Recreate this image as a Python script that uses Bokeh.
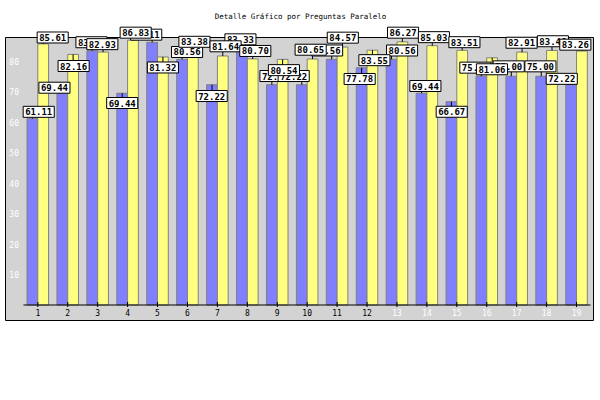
import numpy as np
from bokeh.plotting import figure
from bokeh.models import ColumnDataSource, LabelSet
from bokeh.embed import file_html
from bokeh.resources import INLINE
from bokeh.core.properties import value

# ---------------- data ----------------
categorias = [str(i) for i in range(1, 20)]
serie_azul = [61.11, 69.44, 83.33, 69.44, 86.11, 80.56, 72.22, 83.33, 72.22, 72.22,
              80.56, 77.78, 80.56, 69.44, 66.67, 75.00, 75.00, 75.00, 72.22]
serie_amarilla = [85.61, 82.16, 82.93, 86.83, 81.32, 83.38, 81.64, 80.70, 80.54, 80.65,
                  84.57, 83.55, 86.27, 85.03, 83.51, 81.06, 82.91, 83.46, 83.26]
y_ticks = [10, 20, 30, 40, 50, 60, 70, 80]
titulo = "Detalle Gráfico por Preguntas Paralelo"

# label placement (pixel offsets from the bar top centre: dx right, dy down)
off_azul = [(6.3, -6.8), (-7.9, -5.5), (-0.8, -8.6), (0, 9.8), (-5.9, -7.7), (5, -7.3),
            (-0.3, 11.3), (-1.5, -11.5), (3.6, -8.7), (-8.1, -8.7), (-4.6, -8.8), (-2, 11.2),
            (10.5, -8.8), (3.9, -7.2), (0.3, 10.1), (-6, -8.6), (-2.6, -9.9), (-0.8, -9.9),
            (-9.4, -5.9)]
off_amarilla = [(9.5, -6.4), (0.5, 11.6), (-0.7, -7.9), (2.7, -7.5), (0, 10.5), (1.6, -8.9),
                (2.8, -9.7), (2.6, -7.9), (1.3, 10.8), (-1.9, -9.3), (0.3, -9.4), (2, 10),
                (0.7, -9.2), (1.6, -8.5), (2.2, -8.1), (-0.2, 11.5), (-0.5, -9.4), (0.9, -9.2),
                (-6.6, -6.4)]

# ---------------- layout (page pixels) ----------------
PX_PER_CAT = 29.93
PX_PER_UNIT = 3.05
ZERO_PY = 304.5          # pixel row of value 0
CAT1_PX = 37.3           # pixel column of category 1
W, H_FIG = 600, 340
BOX_L, BOX_R, BOX_T, BOX_B = 5, 593, 37, 320
MONO = value("DejaVu Sans Mono")

def px_x(px):
    return 1 + (px - CAT1_PX) / PX_PER_CAT

def px_y(py):
    return (ZERO_PY - py) / PX_PER_UNIT

p = figure(width=W, height=H_FIG,
           x_range=(px_x(0), px_x(W)), y_range=(px_y(H_FIG), px_y(0)),
           output_backend="svg", toolbar_location=None, tools="",
           x_axis_type=None, y_axis_type=None,
           min_border_left=0, min_border_right=0, min_border_top=0, min_border_bottom=0,
           background_fill_color="white", border_fill_color="white",
           outline_line_color=None)

# plot-area box
p.quad(left=[px_x(BOX_L)], right=[px_x(BOX_R)], top=[px_y(BOX_T)], bottom=[px_y(BOX_B)],
       fill_color="#d3d3d3", line_color="black", line_width=1)

n = len(categorias)
xs = np.arange(1, n + 1, dtype=float)
half = 0.18
src = ColumnDataSource(dict(xa=xs - half, xb=xs + half, az=serie_azul, am=serie_amarilla))

p.vbar(x="xa", top="az", bottom=0, width=2 * half, source=src,
       fill_color="#8080ff", line_color="#808080", line_width=1)
p.vbar(x="xb", top="am", bottom=0, width=2 * half, source=src,
       fill_color="#ffff80", line_color="#808080", line_width=1)

# x axis line, ticks and labels
p.segment(x0=[xs[0] - 0.48], y0=[0], x1=[xs[-1] + 0.47], y1=[0], line_color="black", line_width=1)
p.segment(x0=xs, y0=[3 / PX_PER_UNIT] * n, x1=xs, y1=[-2 / PX_PER_UNIT] * n,
          line_color="black", line_width=1)
colores_x = ["black"] * 12 + ["white"] * (n - 12)
xl_src = ColumnDataSource(dict(x=xs, y=[0] * n, t=categorias, c=colores_x))
p.text(x="x", y="y", text="t", text_color="c", source=xl_src, y_offset=7,
       text_align="center", text_baseline="middle",
       text_font=MONO, text_font_size="8px")

# y tick labels
yl_src = ColumnDataSource(dict(x=[px_x(18.5)] * len(y_ticks), y=y_ticks,
                               t=[str(v) for v in y_ticks]))
p.text(x="x", y="y", text="t", source=yl_src, text_color="white",
       text_align="right", text_baseline="middle",
       text_font=MONO, text_font_size="8px")

# pointer lines + value labels
H = 11.0
def pointers(xc, vals, offs):
    px0, py0, px1, py1 = [], [], [], []
    for x, v, (dx, dy) in zip(xc, vals, offs):
        if dy < 0:
            L = -(dy + H / 2)
            end = v + L / PX_PER_UNIT
        else:
            L = dy - H / 2
            end = v - L / PX_PER_UNIT
        if L > 0.5:
            px0.append(x); py0.append(v); px1.append(x); py1.append(end)
    return px0, py0, px1, py1

for xc, vals, offs in ((xs - half, serie_azul, off_azul), (xs + half, serie_amarilla, off_amarilla)):
    a, b, c, d = pointers(xc, vals, offs)
    p.segment(x0=a, y0=b, x1=c, y1=d, line_color="black", line_width=1)

for xc, vals, offs in ((xs - half, serie_azul, off_azul), (xs + half, serie_amarilla, off_amarilla)):
    s = ColumnDataSource(dict(x=xc, y=vals, t=["%.2f" % v for v in vals],
                              dx=[o[0] for o in offs], dy=[o[1] for o in offs]))
    kw = dict(x="x", y="y", text="t", x_offset="dx", y_offset="dy",
              text_align="center", text_baseline="middle",
              text_font=MONO, text_font_style="bold", text_font_size="9px",
              text_color="black", background_fill_color="white",
              border_line_color="black", border_line_width=1)
    try:
        p.text(source=s, padding=2, **kw)
    except Exception:
        s2 = ColumnDataSource(dict(x=xc, y=vals, t=["%.2f" % v for v in vals],
                                   dx=[o[0] for o in offs], dy=[-o[1] for o in offs]))
        p.add_layout(LabelSet(source=s2, **kw))

# title
p.text(x=[px_x(300)], y=[px_y(15.5)], text=[titulo], text_align="center",
       text_baseline="middle", text_font=MONO, text_font_size="7.5px", text_color="black")

open("out.html", "w").write(file_html(p, INLINE))
